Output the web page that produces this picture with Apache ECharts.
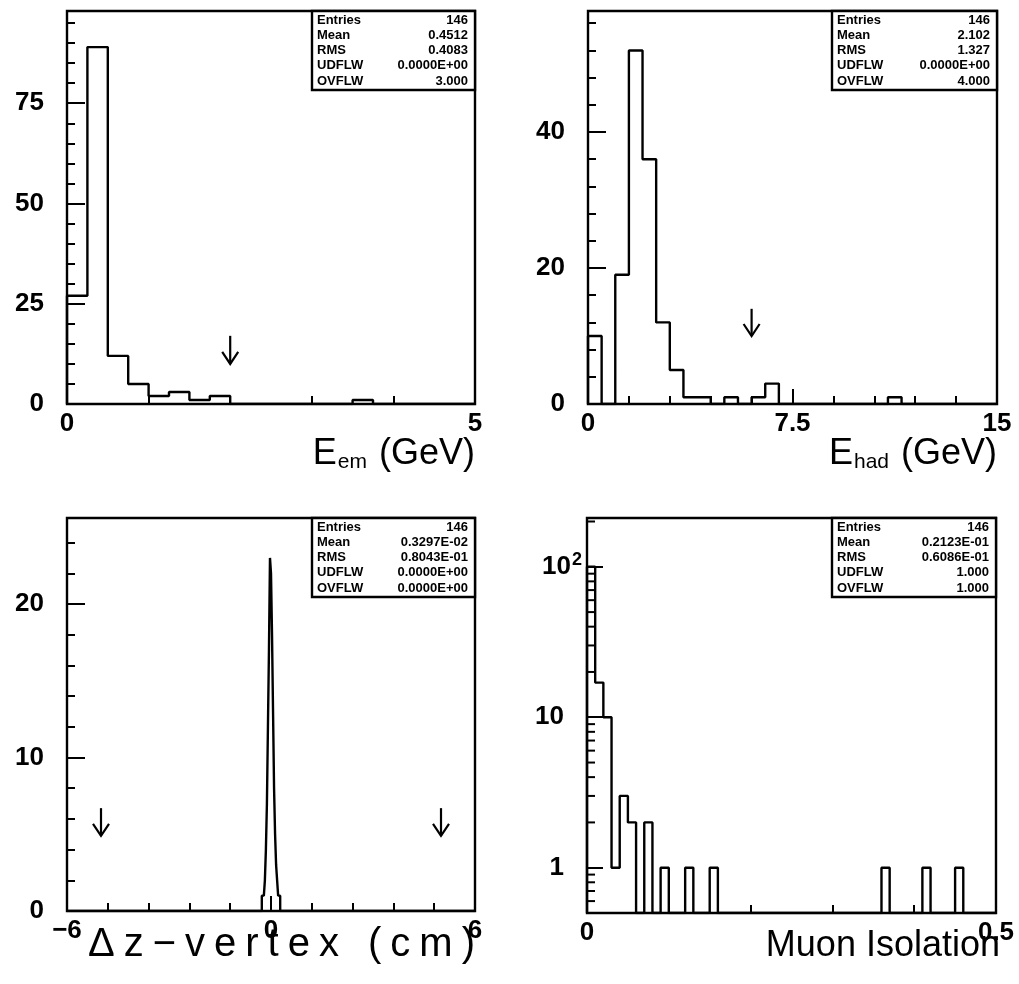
<!DOCTYPE html>
<html>
<head>
<meta charset="utf-8">
<title>histograms</title>
<script src="https://cdn.jsdelivr.net/npm/echarts@6/dist/echarts.min.js"></script>
<style>
html,body{margin:0;padding:0;background:#fff;}
#main{width:1019px;height:984px;}
</style>
</head>
<body>
<div id="main"></div>
<script>
// E_em : 20 bins of 0.25 GeV
var emLo = 0, emWidth = 0.25;
var emCounts = [27, 89, 12, 5, 2, 3, 1, 2, 0, 0, 0, 0, 0, 0, 1, 0, 0, 0, 0, 0];
var emArrows = [[2.0, 17, 10]];            // x, from, to
var emStats = ['146', '0.4512', '0.4083', '0.0000E+00', '3.000'];

// E_had : 30 bins of 0.5 GeV
var hadLo = 0, hadWidth = 0.5;
var hadCounts = [10, 0, 19, 52, 36, 12, 5, 1, 1, 0, 1, 0, 1, 3, 0,
                 0, 0, 0, 0, 0, 0, 0, 1, 0, 0, 0, 0, 0, 0, 0];
var hadArrows = [[6.0, 14, 10]];
var hadStats = ['146', '2.102', '1.327', '0.0000E+00', '4.000'];

// dz-vertex : only the filled bins around 0 (0.03 cm bins), rest empty
var dzLo = -0.27, dzWidth = 0.03;
var dzCounts = [1, 1, 1, 2, 4, 7, 12, 17, 23, 22, 18, 13, 8, 5, 3, 2, 1, 1];
var dzArrows = [[-5, 6.7, 4.9], [5, 6.7, 4.9]];
var dzStats = ['146', '0.3297E-02', '0.8043E-01', '0.0000E+00', '0.0000E+00'];

// muon isolation : 50 bins of 0.01
var muLo = 0, muWidth = 0.01;
var muCounts = [100, 17, 10, 1, 3, 2, 0, 2, 0, 1, 0, 0, 1, 0, 0, 1, 0, 0, 0, 0,
                0, 0, 0, 0, 0, 0, 0, 0, 0, 0, 0, 0, 0, 0, 0, 0, 1, 0, 0, 0,
                0, 1, 0, 0, 0, 1, 0, 0, 0, 0];
var muStats = ['146', '0.2123E-01', '0.6086E-01', '1.000', '1.000'];
var muMinorTicks = [0.6, 0.7, 0.8, 0.9, 2, 3, 4, 5, 6, 7, 8, 9, 20, 30, 40, 50, 60, 70, 80, 90, 200];

var statNames = ['Entries', 'Mean', 'RMS', 'UDFLW', 'OVFLW'];

var FONT = 'Liberation Sans';
var BLACK = '#000';

var chart = echarts.init(document.getElementById('main'));

// histogram outline points for a step line
function histPoints(lo, width, counts, xMin, xMax, floor) {
	var pts = [[xMin, floor]];
	counts.forEach(function (c, i) {
		pts.push([lo + i * width, Math.max(c, floor)]);
	});
	pts.push([lo + counts.length * width, floor]);
	pts.push([xMax, floor]);
	return pts;
}

function minusSign(v) { return String(v).replace('-', '\u2212'); }

function mainAxis(grid, min, max, interval, tickLen, margin) {
	return {
		gridIndex: grid, type: 'value', min: min, max: max, interval: interval,
		axisLine: {show: true, onZero: false, lineStyle: {color: BLACK, width: 2}},
		axisTick: {show: true, inside: true, length: tickLen, lineStyle: {color: BLACK, width: 2}},
		axisLabel: {color: BLACK, fontSize: 26, fontWeight: 'bold', fontFamily: FONT, margin: margin,
			showMaxLabel: false, formatter: minusSign},
		splitLine: {show: false}
	};
}
function minorAxis(grid, min, max, interval, pos) {
	return {
		gridIndex: grid, type: 'value', min: min, max: max, interval: interval, position: pos,
		axisLine: {show: false, onZero: false},
		axisTick: {show: true, inside: true, length: 8, lineStyle: {color: BLACK, width: 2}},
		axisLabel: {show: false},
		splitLine: {show: false}
	};
}
function xMain(grid, min, max, interval) {
	var a = mainAxis(grid, min, max, interval, 15, 7);
	a.axisLabel.showMaxLabel = true;
	return a;
}

function arrowItem(params, api) {
	var top = api.coord([api.value(0), api.value(1)]);
	var tip = api.coord([api.value(0), api.value(2)]);
	return {
		type: 'group',
		children: [
			{type: 'line', shape: {x1: top[0], y1: top[1], x2: tip[0], y2: tip[1]},
				style: {stroke: BLACK, lineWidth: 2.2}},
			{type: 'polyline', shape: {points: [[tip[0] - 8, tip[1] - 12], [tip[0], tip[1]], [tip[0] + 8, tip[1] - 12]]},
				style: {stroke: BLACK, fill: null, lineWidth: 2.2}}
		]
	};
}

function histSeries(xi, yi, pts) {
	return {
		type: 'line', xAxisIndex: xi, yAxisIndex: yi, data: pts, step: 'end',
		showSymbol: false, symbol: 'none', silent: true,
		lineStyle: {color: BLACK, width: 2.4}
	};
}
function arrowSeries(xi, yi, data) {
	return {type: 'custom', xAxisIndex: xi, yAxisIndex: yi, data: data, clip: false,
		renderItem: arrowItem, silent: true};
}

// stats box in the top right corner of each frame
function statsBox(x, y, w, h, values) {
	var kids = [{type: 'rect', shape: {x: 0, y: 0, width: w, height: h},
		style: {fill: '#fff', stroke: BLACK, lineWidth: 2.4}}];
	for (var i = 0; i < statNames.length; i++) {
		kids.push({type: 'text', x: 5, y: 9 + i * 15.3,
			style: {text: statNames[i], font: 'bold 13px ' + FONT, fill: BLACK, textVerticalAlign: 'middle'}});
		kids.push({type: 'text', x: w - 7, y: 9 + i * 15.3,
			style: {text: values[i], font: 'bold 13px ' + FONT, fill: BLACK, textAlign: 'right', textVerticalAlign: 'middle'}});
	}
	return {type: 'group', x: x, y: y, z: 100, children: kids};
}

var titleStyle = {
	color: BLACK, fontFamily: FONT, fontSize: 36, fontWeight: 'normal',
	rich: {
		b: {fontSize: 36, fontFamily: FONT, color: BLACK},
		s: {fontSize: 21, fontFamily: FONT, color: BLACK, padding: [16, 2, 0, 1]},
		w: {fontSize: 40, fontFamily: FONT, color: BLACK, padding: [0, 9, 0, 0]},
		e: {fontSize: 40, fontFamily: FONT, color: BLACK}
	}
};

// the dz title is set wider in the original
function spaced(str) {
	var cs = str.split('');
	return cs.map(function (c, i) { return (i < cs.length - 1 ? '{w|' : '{e|') + c + '}'; }).join('');
}

var option = {
	animation: false,
	backgroundColor: '#fff',
	title: [
		{text: '{b|E}{s|em}{b| (GeV)}', right: 544, top: 436, padding: 0, textStyle: titleStyle},
		{text: '{b|E}{s|had}{b| (GeV)}', right: 22, top: 436, padding: 0, textStyle: titleStyle},
		{text: spaced('\u0394z\u2212vertex (cm)'), right: 544, top: 925, padding: 0, textStyle: titleStyle},
		{text: 'Muon Isolation', right: 19, top: 928, padding: 0, textStyle: titleStyle}
	],
	grid: [
		{left: 67, top: 11, width: 408, height: 393, show: true, borderColor: BLACK, borderWidth: 2.4, backgroundColor: '#fff'},
		{left: 588, top: 11, width: 409, height: 393, show: true, borderColor: BLACK, borderWidth: 2.4, backgroundColor: '#fff'},
		{left: 67, top: 518, width: 408, height: 393, show: true, borderColor: BLACK, borderWidth: 2.4, backgroundColor: '#fff'},
		{left: 587, top: 518, width: 409, height: 395, show: true, borderColor: BLACK, borderWidth: 2.4, backgroundColor: '#fff'}
	],
	xAxis: [
		xMain(0, 0, 5, 5),
		minorAxis(0, 0, 5, 1, 'bottom'),
		xMain(1, 0, 15, 7.5),
		minorAxis(1, 0, 15, 1.5, 'bottom'),
		xMain(2, -6, 6, 6),
		minorAxis(2, -6, 6, 1.2, 'bottom'),
		xMain(3, 0, 0.5, 0.5),
		minorAxis(3, 0, 0.5, 0.1, 'bottom')
	],
	yAxis: [
		mainAxis(0, 0, 98, 25, 18, 23),
		minorAxis(0, 0, 98, 5, 'left'),
		mainAxis(1, 0, 57.8, 20, 18, 23),
		minorAxis(1, 0, 57.8, 4, 'left'),
		mainAxis(2, 0, 25.6, 10, 18, 23),
		minorAxis(2, 0, 25.6, 2, 'left'),
		{
			gridIndex: 3, type: 'log', logBase: 10, min: 0.5, max: 211,
			axisLine: {show: true, onZero: false, lineStyle: {color: BLACK, width: 2}},
			axisTick: {show: true, inside: true, length: 16, lineStyle: {color: BLACK, width: 2}},
			axisLabel: {
				color: BLACK, fontSize: 26, fontWeight: 'bold', fontFamily: FONT, margin: 5,
				showMinLabel: false, showMaxLabel: false,
				formatter: function (v) {
					var n = Math.round(v);
					return n === 100 ? '10{sup|2}' : n + '{gap|}';
				},
				rich: {
					sup: {fontSize: 18, fontWeight: 'bold', fontFamily: FONT, color: BLACK, padding: [0, 0, 14, 1]},
					gap: {width: 18}
				}
			},
			splitLine: {show: false}
		}
	],
	series: [
		histSeries(0, 0, histPoints(emLo, emWidth, emCounts, 0, 5, 0)),
		histSeries(2, 2, histPoints(hadLo, hadWidth, hadCounts, 0, 15, 0)),
		histSeries(4, 4, histPoints(dzLo, dzWidth, dzCounts, -6, 6, 0)),
		histSeries(6, 6, histPoints(muLo, muWidth, muCounts, 0, 0.5, 0.5)),
		arrowSeries(0, 0, emArrows),
		arrowSeries(2, 2, hadArrows),
		arrowSeries(4, 4, dzArrows),
		{
			// log minor ticks on the isolation panel
			type: 'custom', xAxisIndex: 6, yAxisIndex: 6, silent: true,
			data: muMinorTicks.map(function (v) { return [0, v]; }),
			renderItem: function (params, api) {
				var p = api.coord([api.value(0), api.value(1)]);
				return {type: 'line', shape: {x1: p[0], y1: p[1], x2: p[0] + 8, y2: p[1]},
					style: {stroke: BLACK, lineWidth: 2}};
			}
		}
	],
	graphic: [
		statsBox(312, 11, 163, 79, emStats),
		statsBox(832, 11, 165, 79, hadStats),
		statsBox(312, 518, 163, 79, dzStats),
		statsBox(832, 518, 164, 79, muStats)
	]
};

chart.setOption(option);
</script>
</body>
</html>
